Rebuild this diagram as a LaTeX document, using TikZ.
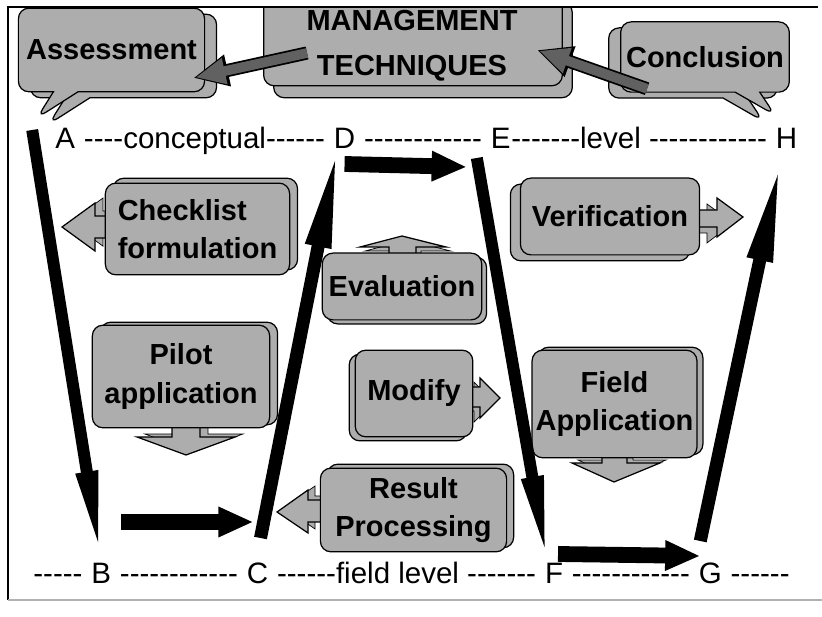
\documentclass[tikz,border=0pt]{standalone}
\usepackage{fontspec}
\setmainfont{Liberation Sans}[Ligatures=TeXOff]
\usetikzlibrary{arrows.meta,positioning,shapes.callouts,shadows}

\definecolor{boxgray}{gray}{0.68}
\definecolor{arrgray}{gray}{0.38}

\tikzset{
  face/.style={draw=black, line width=0.7pt, fill=boxgray},
  box/.style={face, rounded corners=6pt, align=center, inner sep=2pt,
    font=\bfseries\fontsize{16.5}{22}\selectfont},
  stack/.style 2 args={copy shadow={shadow xshift=#1, shadow yshift=#2}},
  lbl/.style={inner sep=0pt, font=\fontsize{16.8}{20}\selectfont},
  vline/.style={line width=6.8pt, -{Triangle[length=52pt,width=11pt]}},
  vlinew/.style={line width=7.4pt, -{Triangle[length=60pt,width=13pt]}},
  hblock/.style={line width=9pt, -{Triangle[length=20pt,width=16pt]}},
  darkarr/.style={draw=arrgray, line width=5.5pt, shorten >=1.3pt,
    -{Triangle[length=17pt,width=14pt]},
    preaction={draw=black, line width=7.5pt, shorten >=0pt,
      -{Triangle[length=20pt,width=17pt]}}}
}

\begin{document}
\begin{tikzpicture}[x=0.02cm,y=-0.02cm]
\useasboundingbox (0,0) rectangle (822,617);

% callouts and title box
\node[box, rectangle callout, callout pointer width=14pt,
  callout absolute pointer={(37,118)}, stack={6.8pt}{-3.4pt},
  minimum width=106pt, minimum height=47.6pt] (ass) at (111.5,50) {Assessment};
\node[box, rectangle callout, callout pointer width=14pt,
  callout absolute pointer={(775,115)}, stack={-6.8pt}{-3.4pt},
  minimum width=96pt, minimum height=40pt] (con) at (705,57) {Conclusion};
\begin{scope}
\clip (8,7) rectangle (822,617);
\node[box, stack={5.7pt}{-6.8pt}, minimum width=170pt, minimum height=54.4pt]
  (mgmt) at (413,38) {};
\end{scope}
\node[font=\bfseries\fontsize{16.5}{25.5}\selectfont, align=center, inner sep=0pt]
  (mgmtt) at (412,46) {MANAGEMENT\\TECHNIQUES};

\draw[darkarr] ([shift={(44,15)}]mgmt.west) -- ([shift={(-12,28)}]ass.east);
\draw[darkarr] ([shift={(27,-4)}]con.south west) -- ([shift={(-26,12)}]mgmt.east);

% block arrows, drawn under their boxes
\draw[face, stack={4.5pt}{2.8pt}] (112,216) -- (95,216) -- (95,203) -- (62,227)
  -- (95,251) -- (95,238) -- (112,238) -- cycle;
\draw[face, stack={4.5pt}{1.7pt}] (172,420) -- (172,437) -- (137,437) -- (186,455)
  -- (235,437) -- (200,437) -- (200,420) -- cycle;
\draw[face, stack={2.8pt}{-2.3pt}] (389,262) -- (389,247) -- (360,247) -- (402,236)
  -- (446,247) -- (416,247) -- (416,262) -- cycle;
\draw[face, stack={-3.4pt}{-2.3pt}] (465,387) -- (480,387) -- (480,378) -- (500,398)
  -- (480,418) -- (480,407) -- (465,407) -- cycle;
\draw[face, stack={-5.7pt}{-3.4pt}] (690,210) -- (717,210) -- (717,198) -- (743,217)
  -- (717,237) -- (717,227) -- (690,227) -- cycle;
\draw[face, stack={3.4pt}{1.7pt}] (602,450) -- (602,463) -- (572,463) -- (614,482)
  -- (660,463) -- (627,463) -- (627,450) -- cycle;
\draw[face, stack={4pt}{2.3pt}] (330,500) -- (308,500) -- (308,490) -- (277,512)
  -- (308,533) -- (308,522) -- (330,522) -- cycle;

% boxes
\node[box, stack={4.5pt}{2.8pt}, align=left, minimum width=104.9pt, minimum height=52.2pt]
  (chk) at (197.5,229) {Checklist\\formulation};
\node[box, stack={4.5pt}{1.7pt}, minimum width=100.9pt, minimum height=58.4pt]
  (pilot) at (181,376.5) {Pilot\\application};
\node[box, stack={2.8pt}{-2.3pt}, minimum width=90.7pt, minimum height=38pt]
  (eval) at (402,286.5) {Evaluation};
\node[box, stack={-3.4pt}{-2.3pt}, minimum width=66.9pt, minimum height=49.3pt]
  (mod) at (414,393.5) {Modify};
\node[box, stack={-5.7pt}{-3.4pt}, minimum width=102pt, minimum height=43.7pt]
  (ver) at (610,216.5) {Verification};
\node[box, stack={3.4pt}{1.7pt}, minimum width=93.5pt, minimum height=61.2pt]
  (field) at (614.5,404) {Field\\Application};
\node[box, stack={4pt}{2.3pt}, minimum width=106pt, minimum height=47.6pt]
  (res) at (413.5,510) {Result\\Processing};

% conceptual level
\node[lbl, anchor=base west] (A) at (55,149) {A};
\node[lbl, base right=0pt of A] (AD) {\ ----conceptual------\ \null};
\node[lbl, base right=0pt of AD] (D) {D};
\node[lbl, base right=0pt of D] (DE) {\ ------------\ \null};
\node[lbl, base right=0pt of DE] (E) {E};
\node[lbl, base right=0pt of E] (EH) {-------level ------------\ \null};
\node[lbl, base right=0pt of EH] (H) {H};

% field level
\node[lbl, anchor=base west] (b0) at (33,584) {-----\ \null};
\node[lbl, base right=0pt of b0] (B) {B};
\node[lbl, base right=0pt of B] (BC) {\ ------------\ \null};
\node[lbl, base right=0pt of BC] (C) {C};
\node[lbl, base right=0pt of C] (CF) {\ ------field level -------\ \null};
\node[lbl, base right=0pt of CF] (F) {F};
\node[lbl, base right=0pt of F] (FG) {\ ------------\ \null};
\node[lbl, base right=0pt of FG] (G) {G};
\node[lbl, base right=0pt of G] (g1) {\ ------};

% the path A-B-C-D-E-F-G-H
\draw[vline] ([shift={(-33,-19)}]A.base) -- ([shift={(0,-22)}]B.base);
\draw[hblock] ([shift={(20,-62)}]B.base) -- ([shift={(-4,-62)}]C.base);
\draw[vlinew] ([shift={(3,-46)}]C.base) -- ([shift={(-6,-6)}]D.base);
\draw[hblock] ([shift={(0,15)}]D.base) -- ([shift={(-34,18)}]E.base);
\draw[vline] ([shift={(-24,9)}]E.base) -- ([shift={(-6,-17)}]F.base);
\draw[hblock] ([shift={(4,-30)}]F.base) -- ([shift={(-10,-28)}]G.base);
\draw[vlinew] ([shift={(-10,-43)}]G.base) -- ([shift={(-5,8)}]H.base);

% frame
\draw[line width=0.8pt] (8,600) -- (8,7) -- (818,7);
\draw[gray!60, line width=0.8pt] (8,600) -- (822,600);
\end{tikzpicture}
\end{document}
